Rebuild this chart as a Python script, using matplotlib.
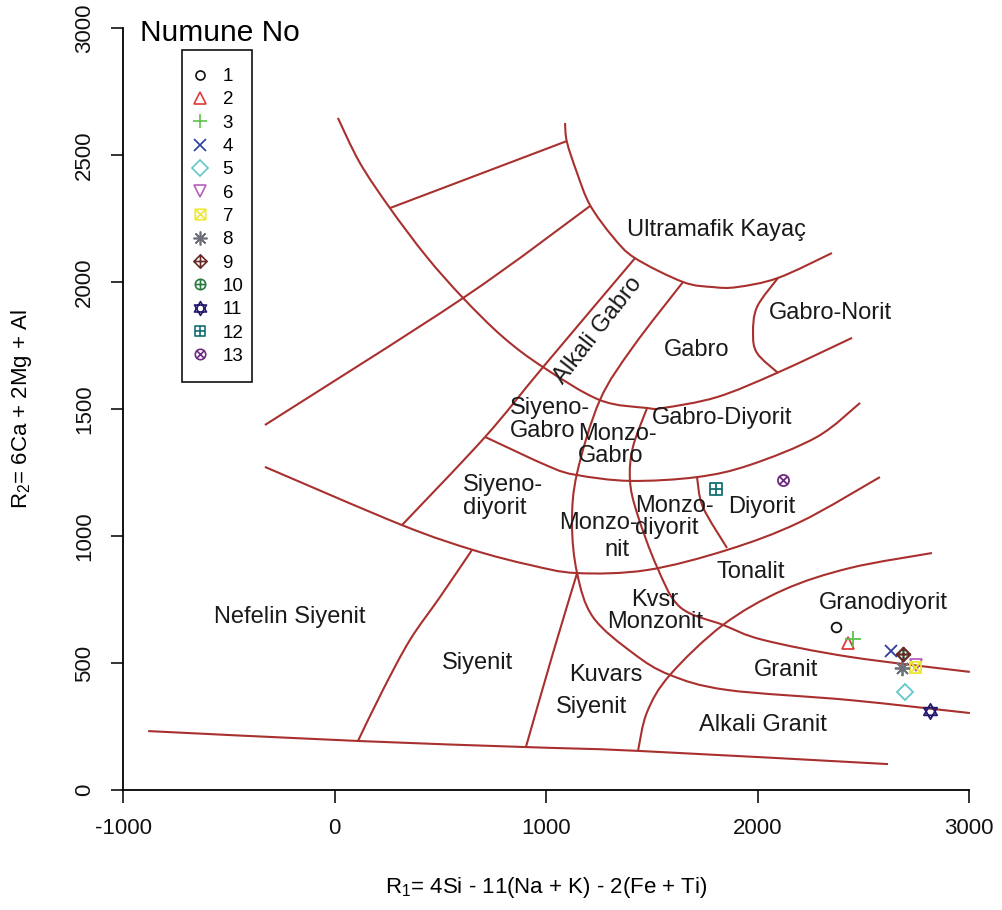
import matplotlib
matplotlib.use("Agg")
import matplotlib.pyplot as plt
from matplotlib.path import Path
from matplotlib.patches import PathPatch, Rectangle
from matplotlib.lines import Line2D
import numpy as np

plt.rcParams['font.family'] = ['Liberation Sans', 'DejaVu Sans']
plt.rcParams['mathtext.fontset'] = 'custom'
plt.rcParams['mathtext.rm'] = 'Liberation Sans'
plt.rcParams['mathtext.it'] = 'Liberation Sans:italic'

# ---------------- data ----------------
sample_ids = ['1', '2', '3', '4', '5', '6', '7', '8', '9', '10', '11', '12', '13']
r1_values = [2371, 2428, 2452, 2631, 2697, 2749, 2745, 2684, 2688, 2688, 2816, 1804, 2121]
r2_values = [642, 579, 594, 547, 386, 492, 484, 480, 535, 535, 311, 1185, 1220]
sample_colors = ['#111111', '#E03A3A', '#5CC24A', '#2B3F9E', '#62C8C8', '#B560B8',
                 '#EEE830', '#6E7078', '#6A2A2A', '#2A7A42', '#22186E', '#147070', '#6E2A80']

# classification boundaries (R1, R2)
bnd_outer_arc = [(16, 2646), (120, 2469), (262, 2291), (437, 2098), (608, 1937), (797, 1783),
                 (986, 1665), (1255, 1535), (1478, 1504), (1553, 1504), (1809, 1547),
                 (2092, 1642), (2447, 1780)]
bnd_ultramafic = [(1090, 2626), (1099, 2551), (1147, 2429), (1208, 2303), (1317, 2177),
                  (1421, 2094), (1648, 2000), (1790, 1980), (1903, 1980), (2097, 2016),
                  (2352, 2114)]
bnd_top_short = [(262, 2291), (1099, 2555)]
bnd_long_diag = [(-329, 1437), (608, 1937), (1208, 2299)]
bnd_alk_gabro_left = [(1421, 2094), (986, 1665), (712, 1390), (319, 1043)]
bnd_central = [(1648, 2000), (1411, 1744), (1255, 1535), (1147, 1248), (1123, 1051),
               (1147, 854), (1222, 681), (1411, 539), (1586, 453), (1856, 394),
               (2437, 354), (3004, 303)]
bnd_qz_syenite = [(1147, 854), (1033, 539), (905, 169)]
bnd_bottom = [(-881, 232), (111, 193), (905, 169), (1435, 154), (2617, 102)]
bnd_granite_left = [(1435, 154), (1478, 307), (1586, 453), (1837, 650), (2121, 787),
                    (2437, 874), (2825, 933)]
bnd_monzo = [(1478, 1504), (1411, 1350), (1397, 1220), (1430, 1091), (1525, 878),
             (1634, 720), (1837, 650), (2026, 591), (2437, 524), (3004, 465)]
bnd_diorite = [(1714, 1232), (1742, 1114), (1856, 953)]
bnd_gabbro_diorite = [(712, 1390), (1019, 1272), (1147, 1240), (1397, 1217), (1714, 1232),
                      (1965, 1280), (2281, 1390), (2485, 1524)]
bnd_syenodiorite = [(-329, 1272), (319, 1043), (655, 945), (924, 886), (1147, 854),
                    (1478, 866), (1856, 945), (2201, 1055), (2579, 1232)]
bnd_gabbronorite = [(2097, 2016), (1998, 1902), (1979, 1799), (1998, 1720), (2097, 1642)]
bnd_syenite_left = [(650, 945), (499, 760), (357, 591), (229, 394), (111, 193)]

boundaries = [bnd_outer_arc, bnd_ultramafic, bnd_top_short, bnd_long_diag, bnd_alk_gabro_left,
              bnd_central, bnd_qz_syenite, bnd_bottom, bnd_granite_left, bnd_monzo,
              bnd_diorite, bnd_gabbro_diorite, bnd_syenodiorite, bnd_gabbronorite,
              bnd_syenite_left]

field_names = ['Ultramafik Kayaç', 'Gabro-Norit', 'Gabro', 'Alkali Gabro', 'Siyeno-\nGabro',
               'Monzo-\nGabro', 'Gabro-Diyorit', 'Siyeno-\ndiyorit', 'Monzo-', 'nit',
               'Monzo-\ndiyorit', 'Diyorit', 'Tonalit', 'Kvsr\nMonzonit', 'Granodiyorit',
               'Granit', 'Kuvars', 'Siyenit', 'Alkali Granit', 'Nefelin Siyenit', 'Siyenit']
field_r1 = [1804, 2343, 1714, 1246, 829, 1151, 1832, 606, 1246, 1336, 1421, 2021, 1969,
            1515, 2593, 2135, 1284, 1213, 2026, -210, 674]
field_r2 = [2205, 1878, 1732, 1811, 1457, 1358, 1465, 1154, 1051, 945, 1075, 1114, 858,
            705, 736, 472, 453, 327, 256, 681, 500]
field_ha = ['center', 'center', 'center', 'center', 'left', 'left', 'center', 'left',
            'center', 'center', 'left', 'center', 'center', 'center', 'center', 'center',
            'center', 'center', 'center', 'center', 'center']
field_rot = [0, 0, 0, 52, 0, 0, 0, 0, 0, 0, 0, 0, 0, 0, 0, 0, 0, 0, 0, 0, 0]

x_ticks = [-1000, 0, 1000, 2000, 3000]
y_ticks = [0, 500, 1000, 1500, 2000, 2500, 3000]

# ---------------- markers (R pch style) ----------------
def compound(*paths):
    return Path.make_compound_path(*paths)

sq = Path([(-1, -1), (1, -1), (1, 1), (-1, 1), (-1, -1)],
          [Path.MOVETO, Path.LINETO, Path.LINETO, Path.LINETO, Path.CLOSEPOLY])
diag1 = Path([(-1, -1), (1, 1)], [Path.MOVETO, Path.LINETO])
diag2 = Path([(-1, 1), (1, -1)], [Path.MOVETO, Path.LINETO])
hline = Path([(-1, 0), (1, 0)], [Path.MOVETO, Path.LINETO])
vline = Path([(0, -1), (0, 1)], [Path.MOVETO, Path.LINETO])
diamond = Path([(0, -1), (1, 0), (0, 1), (-1, 0), (0, -1)],
               [Path.MOVETO, Path.LINETO, Path.LINETO, Path.LINETO, Path.CLOSEPOLY])
circ = Path.unit_circle()
d7 = 0.7071
cdiag1 = Path([(-d7, -d7), (d7, d7)], [Path.MOVETO, Path.LINETO])
cdiag2 = Path([(-d7, d7), (d7, -d7)], [Path.MOVETO, Path.LINETO])
tri_up = Path([(0, 1), (-0.866, -0.5), (0.866, -0.5), (0, 1)],
              [Path.MOVETO, Path.LINETO, Path.LINETO, Path.CLOSEPOLY])
tri_dn = Path([(0, -1), (-0.866, 0.5), (0.866, 0.5), (0, -1)],
              [Path.MOVETO, Path.LINETO, Path.LINETO, Path.CLOSEPOLY])

m_sq_x = compound(sq, diag1, diag2)
m_dia_plus = compound(diamond, hline, vline)
m_circ_plus = compound(circ, hline, vline)
m_star = compound(tri_up, tri_dn)
m_sq_plus = compound(sq, hline, vline)
m_circ_x = compound(circ, cdiag1, cdiag2)

markers = ['o', '^', '+', 'x', 'D', 'v', m_sq_x, (8, 2, 0), m_dia_plus, m_circ_plus,
           m_star, m_sq_plus, m_circ_x]
msizes = [7, 9, 11, 9, 8, 9, 8, 11, 10, 6.5, 11, 8, 8]
legend_sizes = [6.5, 8.5, 10, 8.5, 8, 8.5, 7.5, 10, 9.5, 7.5, 10, 7.5, 7.5]
zorders = [4, 4, 4, 4, 4, 4, 4, 4, 4.2, 4.1, 4, 4, 4]


def smooth_path(points):
    """Catmull-Rom curve through the read points, expressed as cubic Bezier segments."""
    p = np.array(points, dtype=float)
    n = len(p)
    if n < 3:
        return Path(p, [Path.MOVETO] + [Path.LINETO] * (n - 1))
    verts = [p[0]]
    codes = [Path.MOVETO]
    for i in range(n - 1):
        p0 = p[i - 1] if i > 0 else p[i]
        p1 = p[i]
        p2 = p[i + 1]
        p3 = p[i + 2] if i + 2 < n else p[i + 1]
        c1 = p1 + (p2 - p0) / 6.0
        c2 = p2 - (p3 - p1) / 6.0
        verts += [c1, c2, p2]
        codes += [Path.CURVE4] * 3
    return Path(verts, codes)


# ---------------- figure ----------------
W, H = 1002, 910
fig = plt.figure(figsize=(W / 100, H / 100), dpi=100)
# axes placed so that data (-1000..3000, 0..3000) maps to pixels (123..969, 790..28)
sx = (969 - 123) / 4000.0
sy = (790 - 28) / 3000.0
xmin, xmax = -1160, 3160
ymin, ymax = -120, 3100
left_px = 123 - (-1000 - xmin) * sx
bottom_px = 790 + (0 - ymin) * sy
ax = fig.add_axes([left_px / W, (H - bottom_px) / H, (xmax - xmin) * sx / W, (ymax - ymin) * sy / H])
ax.set_xlim(xmin, xmax)
ax.set_ylim(ymin, ymax)

line_color = '#A8302E'
for b in boundaries:
    ax.add_patch(PathPatch(smooth_path(b), facecolor='none', edgecolor=line_color,
                           lw=1.5, capstyle='butt', zorder=2))

for name, x, y, ha, rot in zip(field_names, field_r1, field_r2, field_ha, field_rot):
    ax.text(x, y, name, ha=ha, va='center', rotation=rot, fontsize=17, color='#1a1a1a',
            linespacing=1.05, multialignment=ha if ha != 'center' else 'center',
            rotation_mode='anchor', zorder=3)

handles = []
for i in range(len(sample_ids)):
    ax.plot(r1_values[i], r2_values[i], linestyle='none', marker=markers[i],
            markersize=msizes[i], markerfacecolor='none', markeredgecolor=sample_colors[i],
            markeredgewidth=1.3, zorder=zorders[i], clip_on=False)
    handles.append(Line2D([], [], linestyle='none', marker=markers[i], markersize=legend_sizes[i],
                          markerfacecolor='none', markeredgecolor=sample_colors[i],
                          markeredgewidth=1.2, label=sample_ids[i]))

# axes styling (R-like)
for s in ['top', 'right']:
    ax.spines[s].set_visible(False)
ax.spines['left'].set_position(('data', -1000))
ax.spines['bottom'].set_position(('data', 0))
ax.spines['left'].set_bounds(0, 3000)
ax.spines['bottom'].set_bounds(-1000, 3000)
for s in ['left', 'bottom']:
    ax.spines[s].set_linewidth(1.3)
ax.set_xticks(x_ticks)
ax.set_yticks(y_ticks)
ax.set_xticklabels([str(v) for v in x_ticks])
ax.set_yticklabels([str(v) for v in y_ticks], rotation=90, va='center')
ax.tick_params(axis='both', direction='out', length=9, width=1.2, labelsize=16, pad=11, colors='#111111')

fig.text(546 / W, 1 - 888 / H, r'R$_{\mathrm{1}}$= 4Si - 11(Na + K) - 2(Fe + Ti)',
         ha='center', va='center', fontsize=16)
fig.text(22 / W, 1 - 409 / H, r'R$_{\mathrm{2}}$= 6Ca + 2Mg + Al',
         ha='center', va='center', fontsize=16, rotation=90)

# legend: frame drawn as a rectangle, entries by matplotlib's legend
ax.add_patch(Rectangle((182 / W, 1 - 382 / H), 70 / W, 332 / H, transform=fig.transFigure,
                       facecolor='white', edgecolor='#111111', lw=1.2, zorder=5, clip_on=False))
leg = ax.legend(handles=handles, loc='upper left', bbox_to_anchor=(191 / W, 1 - 68 / H),
                bbox_transform=fig.transFigure, frameon=False, fontsize=13.5,
                handlelength=1.0, handletextpad=0.68, labelspacing=0.33, borderpad=0.0,
                borderaxespad=0.0)
leg.set_zorder(6)
fig.text(140 / W, 1 - 33 / H, 'Numune No', ha='left', va='center', fontsize=21.5)

fig.savefig('out.png', dpi=100)
